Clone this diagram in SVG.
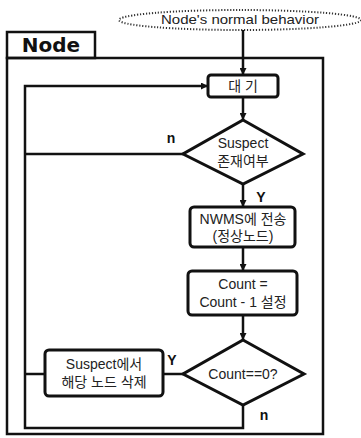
<svg xmlns="http://www.w3.org/2000/svg" width="361" height="438" viewBox="0 0 361 438">
<defs>
<marker id="arr" viewBox="0 0 10 10" refX="10" refY="5" markerWidth="7" markerHeight="7" markerUnits="userSpaceOnUse" orient="auto">
<path d="M0,0 L10,5 L0,10 z" fill="#111"/>
</marker>
</defs>
<style>
.t{font-family:"Liberation Sans","Noto Sans CJK KR",sans-serif;font-size:14px;fill:#222;text-anchor:middle}
.lbl{font-family:"Liberation Sans",sans-serif;font-size:14px;font-weight:bold;fill:#111;text-anchor:middle}
.box{fill:#fff;stroke:#111;stroke-width:3}
.ln{fill:none;stroke:#111;stroke-width:2.5}
.frame{fill:none;stroke:#111;stroke-width:2.5}
</style>
<rect width="361" height="438" fill="#fff"/>
<g id="frame">
<rect x="7" y="32" width="88" height="26" class="frame"/>
<text x="51" y="52" style="font-family:'DejaVu Sans',sans-serif;font-size:20px;font-weight:bold;fill:#111" text-anchor="middle">Node</text>
<rect x="7" y="58" width="316" height="376" class="frame"/>
</g>
<g id="start">
<ellipse cx="240" cy="20" rx="121" ry="10" fill="none" stroke="#333" stroke-width="2" stroke-dasharray="1.2 1.8"/>
<text x="240" y="24" class="t" style="font-size:13px" textLength="158" lengthAdjust="spacingAndGlyphs">Node's normal behavior</text>
</g>
<g id="wait">
<rect x="208" y="75" width="70" height="22" rx="3" class="box"/>
<text x="243" y="91" class="t">대 기</text>
</g>
<g id="suspect">
<polygon points="243,120 303,154 243,184 183,154" class="box"/>
<text x="243" y="148" class="t">Suspect</text>
<text x="243" y="166" class="t">존재여부</text>
</g>
<g id="nwms">
<rect x="190" y="207" width="105" height="40" rx="4" class="box"/>
<text x="243" y="224" class="t">NWMS에 전송</text>
<text x="243" y="241" class="t">(정상노드)</text>
</g>
<g id="count">
<rect x="188" y="271" width="109" height="44" rx="4" class="box"/>
<text x="243" y="289" class="t">Count =</text>
<text x="243" y="307" class="t">Count - 1 설정</text>
</g>
<g id="countzero">
<polygon points="243,340 304,374 243,405 183,374" class="box"/>
<text x="243" y="379" class="t">Count==0?</text>
</g>
<g id="delete">
<rect x="45" y="350" width="118" height="46" rx="4" class="box"/>
<text x="104" y="369" class="t">Suspect에서</text>
<text x="104" y="387" class="t">해당 노드 삭제</text>
</g>
<g id="connectors">
<line x1="243" y1="30" x2="243" y2="75" class="ln" marker-end="url(#arr)"/>
<line x1="243" y1="97" x2="243" y2="120" class="ln" marker-end="url(#arr)"/>
<line x1="243" y1="184" x2="243" y2="207" class="ln" marker-end="url(#arr)"/>
<line x1="243" y1="247" x2="243" y2="271" class="ln" marker-end="url(#arr)"/>
<line x1="243" y1="315" x2="243" y2="340" class="ln" marker-end="url(#arr)"/>
<line x1="183" y1="154" x2="25" y2="154" class="ln"/>
<line x1="183" y1="374" x2="163" y2="374" class="ln"/>
<line x1="45" y1="374" x2="25" y2="374" class="ln"/>
<polyline points="243,405 243,428 25,428 25,86 208,86" class="ln" marker-end="url(#arr)"/>
<text x="171" y="143" class="lbl">n</text>
<text x="261" y="202" class="lbl">Y</text>
<text x="172" y="365" class="lbl">Y</text>
<text x="264" y="420" class="lbl">n</text>
</g>
</svg>
